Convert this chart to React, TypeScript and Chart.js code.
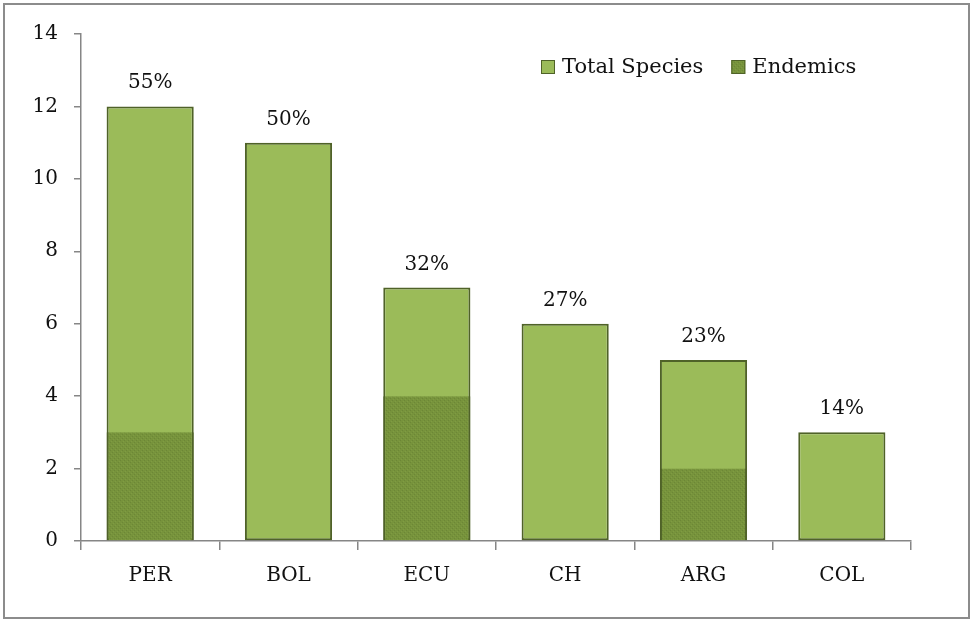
import React, { useEffect, useRef } from "react";
import { Chart, registerables } from "chart.js";

Chart.register(...registerables);

const categories = ["PER", "BOL", "ECU", "CH", "ARG", "COL"];
const totalSpecies = [12, 11, 7, 6, 5, 3];
const endemics = [3, 0, 4, 0, 2, 0];
const percentLabels = ["55%", "50%", "32%", "27%", "23%", "14%"];
const legendLabels = ["Total Species", "Endemics"];

const FONT = "'DejaVu Serif', 'Liberation Serif', serif";
const LIGHT = "#9BBB59";
const DARK = "#77933C";
const EDGE = "#4F6228";
const AXIS = "#868686";

function makePattern(): CanvasPattern | string {
  const c = document.createElement("canvas");
  c.width = 4;
  c.height = 4;
  const g = c.getContext("2d");
  if (!g) return DARK;
  g.fillStyle = DARK;
  g.fillRect(0, 0, 4, 4);
  g.fillStyle = "#6C8736";
  g.fillRect(0, 0, 1, 1);
  g.fillRect(2, 2, 1, 1);
  g.fillStyle = "#7F9C43";
  g.fillRect(1, 3, 1, 1);
  g.fillRect(3, 1, 1, 1);
  return g.createPattern(c, "repeat") || DARK;
}

export default function App() {
  const ref = useRef<HTMLCanvasElement | null>(null);

  useEffect(() => {
    if (!ref.current) return;
    const pattern = makePattern();

    const framePlugin = {
      id: "frame",
      beforeDraw(chart: any) {
        const ctx = chart.ctx;
        ctx.save();
        ctx.fillStyle = "#ffffff";
        ctx.fillRect(0, 0, chart.width, chart.height);
        ctx.strokeStyle = "#8c8c8c";
        ctx.lineWidth = 2;
        ctx.strokeRect(4, 4, chart.width - 8, chart.height - 8);
        ctx.restore();
      },
    };

    const labelPlugin = {
      id: "pctLabels",
      afterDatasetsDraw(chart: any) {
        const ctx = chart.ctx;
        const meta = chart.getDatasetMeta(0);
        ctx.save();
        ctx.font = `20px ${FONT}`;
        ctx.fillStyle = "#111";
        ctx.textAlign = "center";
        ctx.textBaseline = "alphabetic";
        meta.data.forEach((bar: any, i: number) => {
          ctx.fillText(percentLabels[i], bar.x, bar.y - 18);
        });
        ctx.restore();
      },
    };

    const legendPlugin = {
      id: "customLegend",
      afterDraw(chart: any) {
        const ctx = chart.ctx;
        const area = chart.chartArea;
        ctx.save();
        ctx.font = `21px ${FONT}`;
        ctx.textBaseline = "middle";
        ctx.fillStyle = "#111";
        const fills = [LIGHT, pattern];
        let x = area.left + 460;
        const y = area.top + 33;
        legendLabels.forEach((lab, i) => {
          ctx.fillStyle = fills[i] as any;
          ctx.fillRect(x, y - 7, 14, 14);
          ctx.strokeStyle = EDGE;
          ctx.lineWidth = 1;
          ctx.strokeRect(x + 0.5, y - 6.5, 13, 13);
          ctx.fillStyle = "#111";
          ctx.fillText(lab, x + 21, y + 1);
          x += 21 + ctx.measureText(lab).width + 28;
        });
        ctx.restore();
      },
    };

    const chart = new Chart(ref.current, {
      type: "bar",
      data: {
        labels: categories,
        datasets: [
          {
            label: legendLabels[0],
            data: totalSpecies,
            backgroundColor: LIGHT,
            borderColor: EDGE,
            borderWidth: 2,
            borderSkipped: false,
            order: 2,
          },
          {
            label: legendLabels[1],
            data: endemics,
            backgroundColor: pattern as any,
            borderColor: EDGE,
            borderWidth: { left: 2, right: 2, top: 0, bottom: 0 },
            borderSkipped: false,
            order: 1,
          },
        ],
      },
      options: {
        responsive: false,
        animation: false,
        layout: { padding: { left: 0, right: 62, top: 34, bottom: 0 } },
        datasets: {
          bar: { categoryPercentage: 1, barPercentage: 0.63 },
        },
        plugins: {
          legend: { display: false },
          tooltip: { enabled: false },
          title: { display: false },
        },
        scales: {
          x: {
            stacked: true,
            grid: {
              display: true,
              drawOnChartArea: false,
              offset: true,
              tickLength: 9,
              color: AXIS,
              lineWidth: 1.5,
            },
            border: { color: AXIS, width: 1.5 },
            ticks: {
              color: "#111",
              font: { family: FONT, size: 20 },
              padding: 14,
            },
            afterFit(axis: any) {
              axis.height = 81;
            },
          },
          y: {
            stacked: false,
            min: 0,
            max: 14,
            grid: {
              display: true,
              drawOnChartArea: false,
              tickLength: 7,
              color: AXIS,
              lineWidth: 1.5,
            },
            border: { color: AXIS, width: 1.5 },
            ticks: {
              stepSize: 2,
              color: "#111",
              font: { family: FONT, size: 20 },
              padding: 16,
            },
            afterFit(axis: any) {
              axis.width = 81;
            },
          },
        },
      },
      plugins: [framePlugin, labelPlugin, legendPlugin],
    });
    return () => chart.destroy();
  }, []);

  return (
    <div style={{ position: "fixed", left: 0, top: 0, width: 973, height: 622 }}>
      <canvas ref={ref} width={973} height={622} style={{ display: "block" }} />
    </div>
  );
}
